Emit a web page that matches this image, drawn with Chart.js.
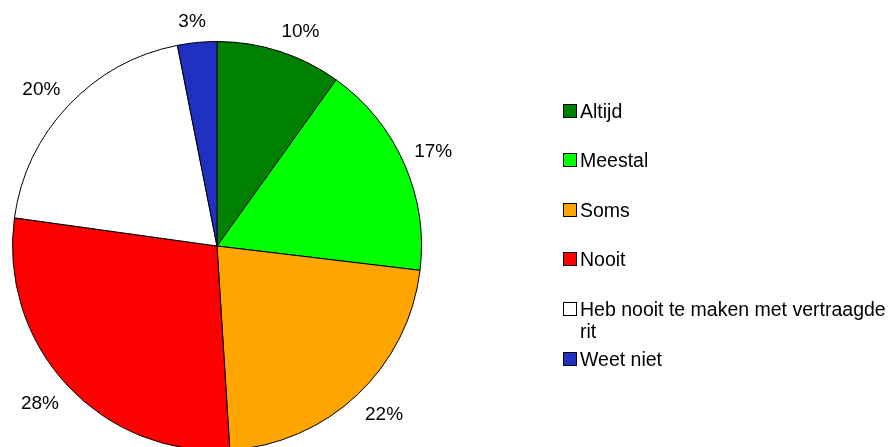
<!DOCTYPE html>
<html>
<head>
<meta charset="utf-8">
<script src="https://cdn.jsdelivr.net/npm/chart.js@4"></script>
<style>
html,body{margin:0;padding:0;overflow:hidden;background:#fff;width:890px;height:447px;}
#wrap{position:relative;width:890px;height:447px;overflow:hidden;}
#c{position:absolute;left:0;top:0;}
#legend{position:absolute;left:563px;top:0;font-family:"Liberation Sans",Arial,sans-serif;font-size:19.5px;color:#000;}
.item{position:absolute;left:0;width:330px;display:flex;align-items:flex-start;line-height:22px;}
.box{width:12px;height:12px;border:1px solid #000;margin-top:4px;margin-right:3px;flex:none;}
</style>
</head>
<body>
<div id="wrap">
<canvas id="c" width="890" height="500"></canvas>
<div id="legend"></div>
</div>
<script>
const categories = ["Altijd", "Meestal", "Soms", "Nooit", "Heb nooit te maken met vertraagde rit", "Weet niet"];
const values = [9.9, 17.0, 22.1, 28.2, 19.7, 3.1];
const colors = ["#008000", "#00FF00", "#FFA500", "#FF0000", "#FFFFFF", "#2030C0"];
const legendLines = [["Altijd"], ["Meestal"], ["Soms"], ["Nooit"], ["Heb nooit te maken met vertraagde", "rit"], ["Weet niet"]];

const total = values.reduce((a, b) => a + b, 0);

const labelPlugin = {
  id: 'outLabels',
  afterDatasetsDraw(chart) {
    const ctx = chart.ctx;
    const meta = chart.getDatasetMeta(0);
    const fs = 19;
    const capH = 0.716 * fs;
    ctx.save();
    ctx.font = fs + 'px "Liberation Sans", Arial, sans-serif';
    ctx.fillStyle = '#000';
    ctx.textAlign = 'center';
    ctx.textBaseline = 'alphabetic';
    const clamp = v => Math.max(-1, Math.min(1, v));
    meta.data.forEach((arc, i) => {
      const mid = (arc.startAngle + arc.endAngle) / 2;
      const ry = arc.outerRadius + 15.5;
      const rx = arc.outerRadius + 11;
      const ax = arc.x + Math.cos(mid) * rx;
      const ay = arc.y + Math.sin(mid) * ry;
      const txt = Math.round(values[i] / total * 100) + '%';
      const w = ctx.measureText(txt).width;
      const cx = ax + clamp(Math.cos(mid) * 3) * w / 2;
      const cy = ay + clamp(Math.sin(mid) * 3) * capH / 2;
      ctx.fillText(txt, cx, cy + capH / 2);
    });
    ctx.restore();
  }
};

new Chart(document.getElementById('c'), {
  type: 'pie',
  data: {
    labels: categories,
    datasets: [{
      data: values,
      backgroundColor: colors,
      borderColor: '#000',
      borderWidth: 1
    }]
  },
  options: {
    responsive: false,
    animation: false,
    layout: { padding: { left: 12, right: 468, top: 41, bottom: 49 } },
    plugins: { legend: { display: false }, tooltip: { enabled: false } }
  },
  plugins: [labelPlugin]
});

const legendTops = [100, 149, 199, 248, 298, 348];
const lg = document.getElementById('legend');
categories.forEach((c, i) => {
  const d = document.createElement('div');
  d.className = 'item';
  d.style.top = legendTops[i] + 'px';
  const b = document.createElement('div');
  b.className = 'box';
  b.style.background = colors[i];
  const t = document.createElement('div');
  t.innerHTML = legendLines[i].join('<br>');
  d.appendChild(b); d.appendChild(t);
  lg.appendChild(d);
});
</script>
</body>
</html>
